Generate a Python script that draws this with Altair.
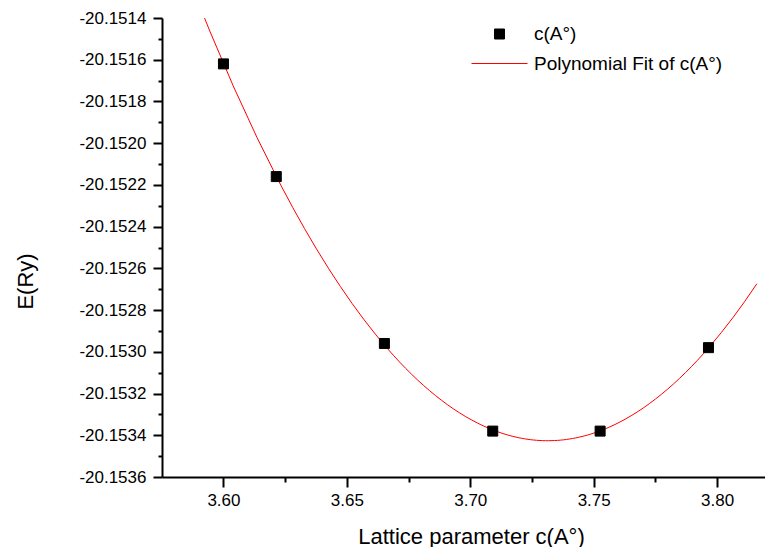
import altair as alt
import pandas as pd

# ---- data ----
c_values = [3.6000, 3.6214, 3.6652, 3.7091, 3.7526, 3.7965]
e_values = [-20.15162, -20.15216, -20.15296, -20.15338, -20.15338, -20.15298]

series_names = ["c(A°)", "Polynomial Fit of c(A°)"]
series_colors = ["#000000", "#ff0000"]
series_shapes = ["square", "stroke"]
series_sizes = [100, 3136]

x_domain = [3.5751, 3.8194]
y_domain = [-20.1536, -20.1514]
fit_extent = [3.575, 3.8161]

x_major_ticks = [3.60, 3.65, 3.70, 3.75, 3.80]
x_minor_ticks = [3.625, 3.675, 3.725, 3.775]
y_major_ticks = [-20.1536, -20.1534, -20.1532, -20.1530, -20.1528, -20.1526,
                 -20.1524, -20.1522, -20.1520, -20.1518, -20.1516, -20.1514]
y_minor_ticks = [-20.1535, -20.1533, -20.1531, -20.1529, -20.1527, -20.1525,
                 -20.1523, -20.1521, -20.1519, -20.1517, -20.1515]

df = pd.DataFrame({"c": c_values, "E": e_values, "series": series_names[0]})

FONT = "Liberation Sans"

x_scale = alt.Scale(domain=x_domain, nice=False, zero=False)
y_scale = alt.Scale(domain=y_domain, nice=False, zero=False)

x_axis = alt.Axis(
    values=x_major_ticks,
    format=".2f",
    ticks=True,
    tickSize=10,
    tickWidth=2,
    tickColor="#000000",
    tickOpacity=1,
    labelPadding=5,
    title="Lattice parameter c(A°)",
    titleX=309,
    titleY=66,
    titleBaseline="alphabetic",
    titleAlign="center",
    grid=False,
    orient="bottom",
)
y_axis = alt.Axis(
    values=y_major_ticks,
    labelExpr="replace(format(datum.value, '.4f'), '−', '-')",
    ticks=True,
    tickSize=9,
    tickWidth=2,
    tickColor="#000000",
    tickOpacity=1,
    labelPadding=7,
    title="E(Ry)",
    titleX=-130,
    titleY=263,
    titleAngle=-90,
    titleBaseline="alphabetic",
    titleAlign="center",
    grid=False,
    orient="left",
)
x_minor_axis = alt.Axis(
    values=x_minor_ticks, ticks=True, tickSize=5, tickWidth=2, tickColor="#000000",
    tickOpacity=1, labels=False, domain=False, title="", grid=False, orient="bottom",
)
y_minor_axis = alt.Axis(
    values=y_minor_ticks, ticks=True, tickSize=4, tickWidth=2, tickColor="#000000",
    tickOpacity=1, labels=False, domain=False, title="", grid=False, orient="left",
)

legend = alt.Legend(
    title=None,
    orient="none",
    legendX=309,
    legendY=4,
    padding=0,
    labelOffset=6,
    labelLimit=0,
    rowPadding=5.5,
    clipHeight=24,
    symbolStrokeWidth=1,
    symbolOpacity=1,
)

color_scale = alt.Scale(domain=series_names, range=series_colors)
fill_scale = alt.Scale(domain=series_names, range=series_colors)
shape_scale = alt.Scale(domain=series_names, range=series_shapes)
size_scale = alt.Scale(type="ordinal", domain=series_names, range=series_sizes)

points = alt.Chart(df).mark_point(filled=False, strokeWidth=1, opacity=1).encode(
    x=alt.X("c:Q", scale=x_scale, axis=x_axis),
    y=alt.Y("E:Q", scale=y_scale, axis=y_axis),
    color=alt.Color("series:N", scale=color_scale, legend=legend),
    fill=alt.Fill("series:N", scale=fill_scale, legend=legend),
    shape=alt.Shape("series:N", scale=shape_scale, legend=legend),
    size=alt.Size("series:N", scale=size_scale, legend=legend),
)

fit = alt.Chart(df).transform_regression(
    "c", "E", method="poly", order=2, extent=fit_extent
).transform_calculate(
    series=f"'{series_names[1]}'"
).mark_line(strokeWidth=1, clip=True).encode(
    x=alt.X("c:Q", scale=x_scale, axis=x_minor_axis),
    y=alt.Y("E:Q", scale=y_scale, axis=y_minor_axis),
    color=alt.Color("series:N", scale=color_scale, legend=legend),
)

chart = alt.layer(fit, points).resolve_axis(
    x="independent", y="independent"
).properties(
    width=603,
    height=459,
    autosize=alt.AutoSizeParams(type="none"),
    padding={"left": 154, "top": 10, "right": 0, "bottom": 70},
).configure_view(
    stroke=None
).configure_axis(
    labelFont=FONT,
    labelFontSize=17,
    labelColor="#000000",
    titleFont=FONT,
    titleFontSize=22,
    titleFontWeight="normal",
    titleColor="#000000",
    domainColor="#000000",
    domainWidth=2,
).configure_legend(
    labelFont=FONT,
    labelFontSize=19,
    labelColor="#000000",
)

chart.save("out.html", embed_options={"renderer": "svg", "actions": False})
